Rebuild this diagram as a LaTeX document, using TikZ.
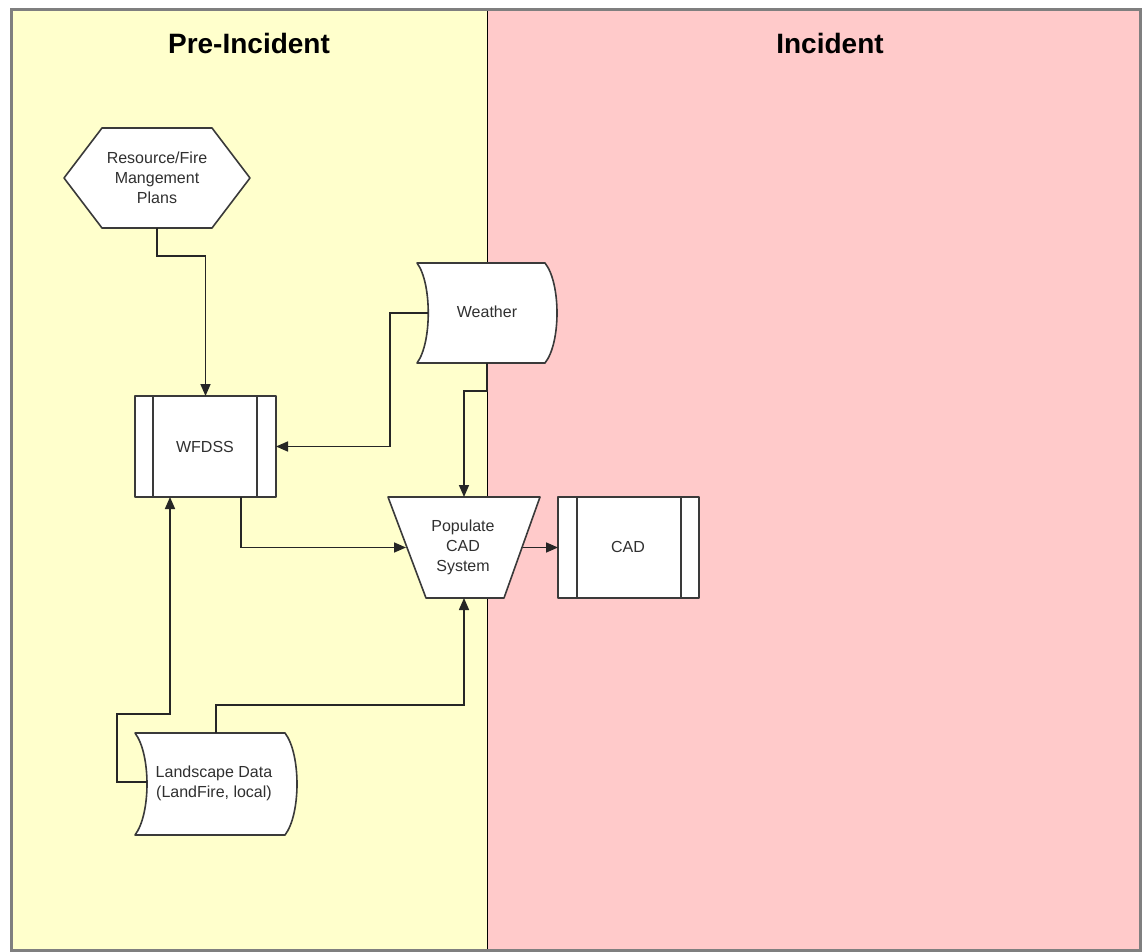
\documentclass[tikz,border=0pt]{standalone}
\usepackage{fontspec}
\setmainfont{Liberation Sans}
\usetikzlibrary{arrows.meta,calc}

\definecolor{preyellow}{HTML}{FFFFCC}
\definecolor{incpink}{HTML}{FFCACA}
\definecolor{framegray}{HTML}{7F7F7F}
\definecolor{edgegray}{HTML}{3A3A3A}
\definecolor{txtgray}{HTML}{303030}

\tikzset{
  every node/.style={inner sep=0pt, outer sep=0pt},
  lbl/.style={font=\fontsize{16}{20}\selectfont, text=txtgray, align=center},
  hdr/.style={font=\fontsize{28}{32}\selectfont\bfseries},
  outline/.style={draw=edgegray, line width=1.6pt, fill=white, line join=round},
  inner/.style={draw=edgegray, line width=1.6pt},
  conn/.style={draw=black!85, line width=1.6pt, -{Triangle[length=12pt,width=10pt]}},
}

\begin{document}
\begin{tikzpicture}[x=1pt, y=-1pt]
  \useasboundingbox (0,0) rectangle (1143,952);

  % swimlanes
  \fill[preyellow] (11,10) rectangle (487,950);
  \fill[incpink] (487,10) rectangle (1140,950);
  \draw[black, line width=1pt] (487,10) -- (487,950);
  \draw[framegray, line width=3pt] (11,10) rectangle (1140,950);

  \node[hdr] (hpre) at (249,43) {Pre-Incident};
  \node[hdr] (hinc) at (830,43) {Incident};

  % node frames (shapes are drawn from their anchors below)
  \node[minimum width=186, minimum height=100] (hex) at (157,178) {};
  \node[minimum width=141, minimum height=101] (wfdss) at (205.5,446.5) {};
  \node[minimum width=140, minimum height=100] (weather) at (487,313) {};
  \node[minimum width=152, minimum height=101] (pop) at (464,547.5) {};
  \node[minimum width=141, minimum height=101] (cad) at (628.5,547.5) {};
  \node[minimum width=162, minimum height=102] (land) at (216,784) {};

  % Resource/Fire plans: hexagon
  \draw[outline] (hex.west) -- ($(hex.north west)+(38,0)$) -- ($(hex.north east)+(-38,0)$)
    -- (hex.east) -- ($(hex.south east)+(-38,0)$) -- ($(hex.south west)+(38,0)$) -- cycle;

  % predefined processes
  \draw[outline] (wfdss.north west) rectangle (wfdss.south east);
  \draw[inner] ($(wfdss.north west)+(18,0)$) -- ($(wfdss.south west)+(18,0)$);
  \draw[inner] ($(wfdss.north east)+(-19,0)$) -- ($(wfdss.south east)+(-19,0)$);
  \draw[outline] (cad.north west) rectangle (cad.south east);
  \draw[inner] ($(cad.north west)+(19,0)$) -- ($(cad.south west)+(19,0)$);
  \draw[inner] ($(cad.north east)+(-18,0)$) -- ($(cad.south east)+(-18,0)$);

  % stored data shapes
  \draw[outline] (weather.north west) -- ($(weather.north east)+(-12,0)$)
    .. controls ($(weather.east)+(4,-30)$) and ($(weather.east)+(4,30)$) .. ($(weather.south east)+(-12,0)$)
    -- (weather.south west)
    .. controls ($(weather.west)+(15,30)$) and ($(weather.west)+(15,-30)$) .. (weather.north west) -- cycle;
  \draw[outline] (land.north west) -- ($(land.north east)+(-12,0)$)
    .. controls ($(land.east)+(4,-30)$) and ($(land.east)+(4,30)$) .. ($(land.south east)+(-12,0)$)
    -- (land.south west)
    .. controls ($(land.west)+(16,30)$) and ($(land.west)+(16,-30)$) .. (land.north west) -- cycle;

  % manual operation: trapezoid
  \draw[outline] (pop.north west) -- (pop.north east) -- ($(pop.south east)+(-36,0)$)
    -- ($(pop.south west)+(38,0)$) -- cycle;

  % labels
  \node[lbl] (thex) at (157,178) {Resource/Fire\\Mangement\\Plans};
  \node[lbl] (twf) at (205,446.5) {WFDSS};
  \node[lbl] (twe) at (487,312) {Weather};
  \node[lbl] (tpop) at (463,547) {Populate\\CAD\\System};
  \node[lbl] (tcad) at (628,547) {CAD};
  \node[lbl] (tland) at (214,783) {Landscape Data\\(LandFire, local)};

  % connectors
  \draw[conn] (hex.south) -- ++(0,28) -| (wfdss.north);
  \draw[conn] ($(weather.west)+(11,0)$) -- ++(-38,0) |- (wfdss.east);
  \draw[conn] (weather.south) -- ++(0,28) -| (pop.north);
  \draw[conn] ($(wfdss.south)+(35.5,0)$) |- ($(pop.west)+(18,0)$);
  \draw[conn] ($(pop.east)+(-17,0)$) -- (cad.west);
  \draw[conn] (land.north) -- ++(0,-28) -| (pop.south);
  \draw[conn] ($(land.west)+(12,-2)$) -- ++(-30,0) -- ++(0,-68) -| ($(wfdss.south west)+(35,0)$);
\end{tikzpicture}
\end{document}
